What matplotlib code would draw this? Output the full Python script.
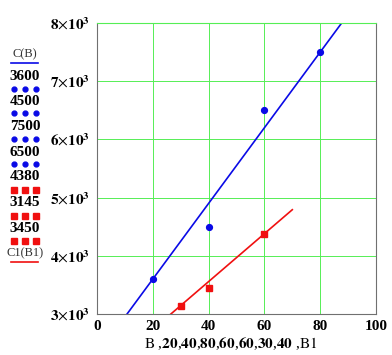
import numpy as np
import matplotlib.pyplot as plt
from matplotlib.lines import Line2D

plt.rcParams['font.family'] = 'Liberation Serif'
plt.rcParams['mathtext.fontset'] = 'stix'

# data
B = [20, 40, 80, 60]
C = [3600, 4500, 7500, 6500]
B1 = [60, 30, 40]
C1 = [4380, 3145, 3450]

# fitted lines C(B) = a + b*B
blue_a, blue_b = 2300, 65.0
red_a, red_b = 1910, 41.17
blue_range = (0, 100)
red_range = (0, 70)

xticks = [0, 20, 40, 60, 80, 100]
yticks = [3000, 4000, 5000, 6000, 7000, 8000]
ytick_labels = [r'$\mathbf{%d}{\times}\mathbf{10}^{\mathbf{3}}$' % (v // 1000) for v in yticks]
x_expr = ['20', '40', '80', '60', '60', '30', '40']

blue = '#0a0ae6'
red = '#f01010'
green = '#55ee55'

fig = plt.figure(figsize=(3.92, 3.55), dpi=100)
ax = fig.add_axes([97 / 392, 1 - 314 / 355, 279 / 392, 291 / 355])

xb = np.linspace(*blue_range, 200)
xr = np.linspace(*red_range, 200)
ax.plot(xb, blue_a + blue_b * xb, color=blue, lw=1.2)
ax.plot(xr, red_a + red_b * xr, color=red, lw=1.2)
ax.plot(B, C, 'o', color=blue, ms=4.2, ls='none')
ax.plot(B1, C1, 's', color=red, ms=4.2, ls='none')

ax.set_xlim(0, 100)
ax.set_ylim(3000, 8000)
ax.set_xticks(xticks)
ax.set_xticklabels([str(v) for v in xticks], fontweight='bold', fontsize=11)
ax.set_yticks(yticks)
ax.set_yticklabels(ytick_labels, fontsize=11)
ax.tick_params(axis='y', length=0, pad=5)
ax.tick_params(axis='x', length=0, pad=4)
ax.grid(True, color=green, lw=0.7)
ax.set_axisbelow(True)
for s in ['left', 'bottom', 'right']:
    ax.spines[s].set_color('#707070')
ax.spines['top'].set_color(green)

# x axis label
label = r'$\mathrm{B}$ ,' + ','.join(r'$\mathbf{%s}$' % s for s in x_expr) + r' ,$\mathrm{B1}$'
fig.text(231 / 392, 1 - 344 / 355, label, ha='center', va='center', fontsize=11)

# left-side legend (Mathcad style)
def fy(y):
    return 1 - y / 355

def fx(x):
    return x / 392

fig.text(fx(25), fy(54), 'C(B)', ha='center', va='center', fontsize=9, color='#333333')
fig.add_artist(Line2D([fx(11), fx(38)], [fy(63), fy(63)], color=blue, lw=1.2, transform=fig.transFigure))
label_y = [77, 101, 127, 152, 177, 203, 228]
for i, v in enumerate(C + C1):
    yl = label_y[i]
    fig.text(fx(25), fy(yl), str(v), ha='center', va='center', fontsize=11, fontweight='bold')
    if i < len(C):
        fig.add_artist(Line2D([fx(14), fx(25), fx(36)], [fy(yl + 12)] * 3, ls='none', marker='o',
                              ms=3.5, color=blue, transform=fig.transFigure))
    else:
        fig.add_artist(Line2D([fx(14), fx(25), fx(36)], [fy(yl + 13)] * 3, ls='none', marker='s',
                              ms=4, color=red, transform=fig.transFigure))
fig.text(fx(25), fy(253), 'C1(B1)', ha='center', va='center', fontsize=9, color='#333333')
fig.add_artist(Line2D([fx(11), fx(38)], [fy(262), fy(262)], color=red, lw=1.2, transform=fig.transFigure))

fig.savefig('out.png', dpi=100)
